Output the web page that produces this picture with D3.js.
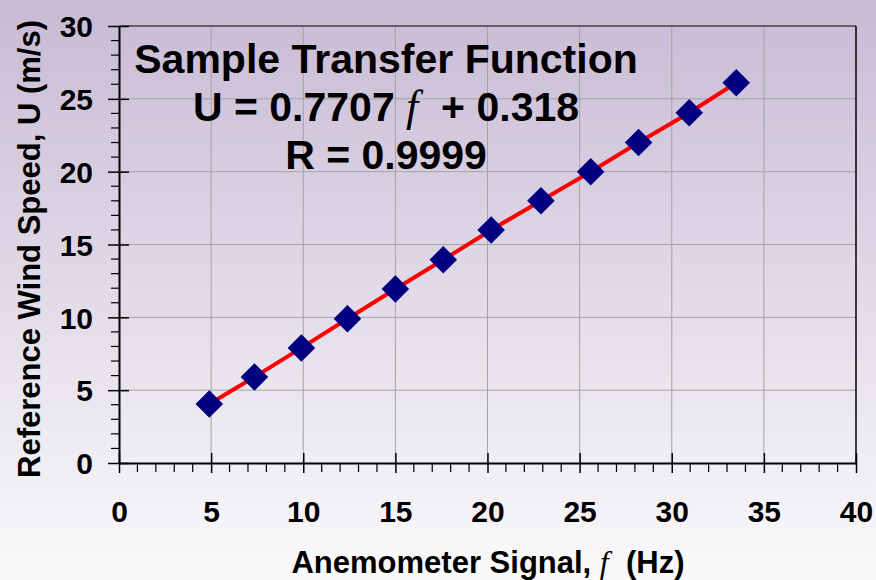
<!DOCTYPE html>
<html><head><meta charset="utf-8">
<script src="https://cdn.jsdelivr.net/npm/d3@7"></script>
<style>html,body{margin:0;padding:0;overflow:hidden;}svg{display:block;}text{white-space:pre;}</style>
</head><body>
<script>
const signalHz = [4.9, 7.35, 9.9, 12.4, 15.0, 17.6, 20.2, 22.9, 25.6, 28.2, 30.95, 33.5];
const windSpeed = [4.05, 5.9, 7.9, 9.9, 11.95, 13.95, 16.0, 18.0, 20.0, 22.0, 24.05, 26.1];
const xTicks = [0, 5, 10, 15, 20, 25, 30, 35, 40];
const yTicks = [0, 5, 10, 15, 20, 25, 30];
const titleLines = ["Sample Transfer Function", "R = 0.9999"];

const W = 876, H = 580;
const m = {left: 119, right: 856, top: 26, bottom: 463};
const svg = d3.select("body").append("svg").attr("width", W).attr("height", H);
const defs = svg.append("defs");
const grad = defs.append("linearGradient").attr("id", "bg").attr("x1", 0).attr("y1", 0).attr("x2", 0).attr("y2", 1);
grad.append("stop").attr("offset", "0%").attr("stop-color", "#c8bad4");
grad.append("stop").attr("offset", "100%").attr("stop-color", "#fafafb");
svg.append("rect").attr("width", W).attr("height", H).attr("fill", "url(#bg)");

const x = d3.scaleLinear().domain([0, 40]).range([m.left, m.right]);
const y = d3.scaleLinear().domain([0, 30]).range([m.bottom, m.top]);
const font = "'Liberation Sans', Arial, sans-serif";
const serif = "'Liberation Serif', 'Times New Roman', serif";

// gridlines
const g = svg.append("g");
g.selectAll(".vg").data(xTicks.filter(d => d > 0 && d < 40)).join("line")
  .attr("x1", d => x(d)).attr("x2", d => x(d)).attr("y1", m.top).attr("y2", m.bottom)
  .attr("stroke", "#a3a3a3").attr("stroke-width", 1);
g.selectAll(".hg").data(yTicks.filter(d => d > 0 && d < 30)).join("line")
  .attr("x1", m.left).attr("x2", m.right).attr("y1", d => y(d)).attr("y2", d => y(d))
  .attr("stroke", "#a3a3a3").attr("stroke-width", 1);

// borders
svg.append("line").attr("x1", m.left).attr("x2", m.right).attr("y1", m.top).attr("y2", m.top).attr("stroke", "#444").attr("stroke-width", 1.5);
svg.append("line").attr("x1", m.right).attr("x2", m.right).attr("y1", m.top).attr("y2", m.bottom).attr("stroke", "#000").attr("stroke-width", 1.5);

// minor ticks
svg.append("g").selectAll("line").data(d3.range(0, 41).filter(d => d % 5 !== 0)).join("line")
  .attr("x1", d => x(d)).attr("x2", d => x(d)).attr("y1", m.bottom).attr("y2", m.bottom + 9)
  .attr("stroke", "#000").attr("stroke-width", 1.2);
svg.append("g").selectAll("line").data(d3.range(0, 31).filter(d => d % 5 !== 0)).join("line")
  .attr("x1", m.left - 8).attr("x2", m.left).attr("y1", d => y(d)).attr("y2", d => y(d))
  .attr("stroke", "#000").attr("stroke-width", 1.2);

// axes (major ticks crossing)
const xAxis = d3.axisBottom(x).tickValues(xTicks).tickSizeInner(10).tickSizeOuter(0);
const xg = svg.append("g").attr("transform", `translate(0,${m.bottom})`).call(xAxis);
xg.select(".domain").attr("stroke", "#000").attr("stroke-width", 2);
xg.selectAll(".tick line").attr("y1", -10).attr("stroke", "#000").attr("stroke-width", 1.5);
xg.selectAll(".tick text").attr("font-family", font).attr("font-weight", "bold").attr("font-size", 30)
  .attr("fill", "#000").attr("dy", 0).attr("y", 59);

const yAxis = d3.axisLeft(y).tickValues(yTicks).tickSizeInner(11).tickSizeOuter(0);
const yg = svg.append("g").attr("transform", `translate(${m.left},0)`).call(yAxis);
yg.select(".domain").attr("stroke", "#000").attr("stroke-width", 2);
yg.selectAll(".tick line").attr("x1", 10).attr("stroke", "#000").attr("stroke-width", 1.5);
yg.selectAll(".tick text").attr("font-family", font).attr("font-weight", "bold").attr("font-size", 30)
  .attr("fill", "#000").attr("x", -26).attr("dy", "0.36em");

// data line and markers
const pts = signalHz.map((f, i) => [f, windSpeed[i]]);
svg.append("path").datum(pts)
  .attr("d", d3.line().x(d => x(d[0])).y(d => y(d[1])))
  .attr("fill", "none").attr("stroke", "#ff0000").attr("stroke-width", 4);
const sym = d3.symbol().type(d3.symbolSquare).size(380);
svg.append("g").selectAll("path").data(pts).join("path")
  .attr("d", sym)
  .attr("transform", d => `translate(${x(d[0])},${y(d[1])}) rotate(45)`)
  .attr("fill", "#000080");

// title block
const tcx = 386;
svg.append("text").attr("x", tcx).attr("y", 73).attr("text-anchor", "middle")
  .attr("font-family", font).attr("font-weight", "bold").attr("font-size", 41).text(titleLines[0]);
const eq = svg.append("text").attr("x", tcx).attr("y", 121).attr("text-anchor", "middle")
  .attr("font-family", font).attr("font-weight", "bold").attr("font-size", 41);
eq.append("tspan").text("U = 0.7707\u00a0");
eq.append("tspan").attr("font-family", serif).attr("font-style", "italic").attr("font-weight", "normal").attr("font-size", 44).text("f");
eq.append("tspan").text("\u00a0\u00a0+ 0.318");
svg.append("text").attr("x", tcx).attr("y", 169).attr("text-anchor", "middle")
  .attr("font-family", font).attr("font-weight", "bold").attr("font-size", 41).text(titleLines[1]);

// axis titles
const xt = svg.append("text").attr("x", 488).attr("y", 573).attr("text-anchor", "middle")
  .attr("font-family", font).attr("font-weight", "bold").attr("font-size", 31);
xt.append("tspan").text("Anemometer Signal,\u00a0");
xt.append("tspan").attr("font-family", serif).attr("font-style", "italic").attr("font-weight", "normal").attr("font-size", 32).text("f");
xt.append("tspan").text("\u00a0\u00a0(Hz)");

svg.append("text").attr("transform", `translate(40,249) rotate(-90)`).attr("text-anchor", "middle")
  .attr("font-family", font).attr("font-weight", "bold").attr("font-size", 31)
  .text("Reference Wind Speed, U (m/s)");
</script>
</body></html>
